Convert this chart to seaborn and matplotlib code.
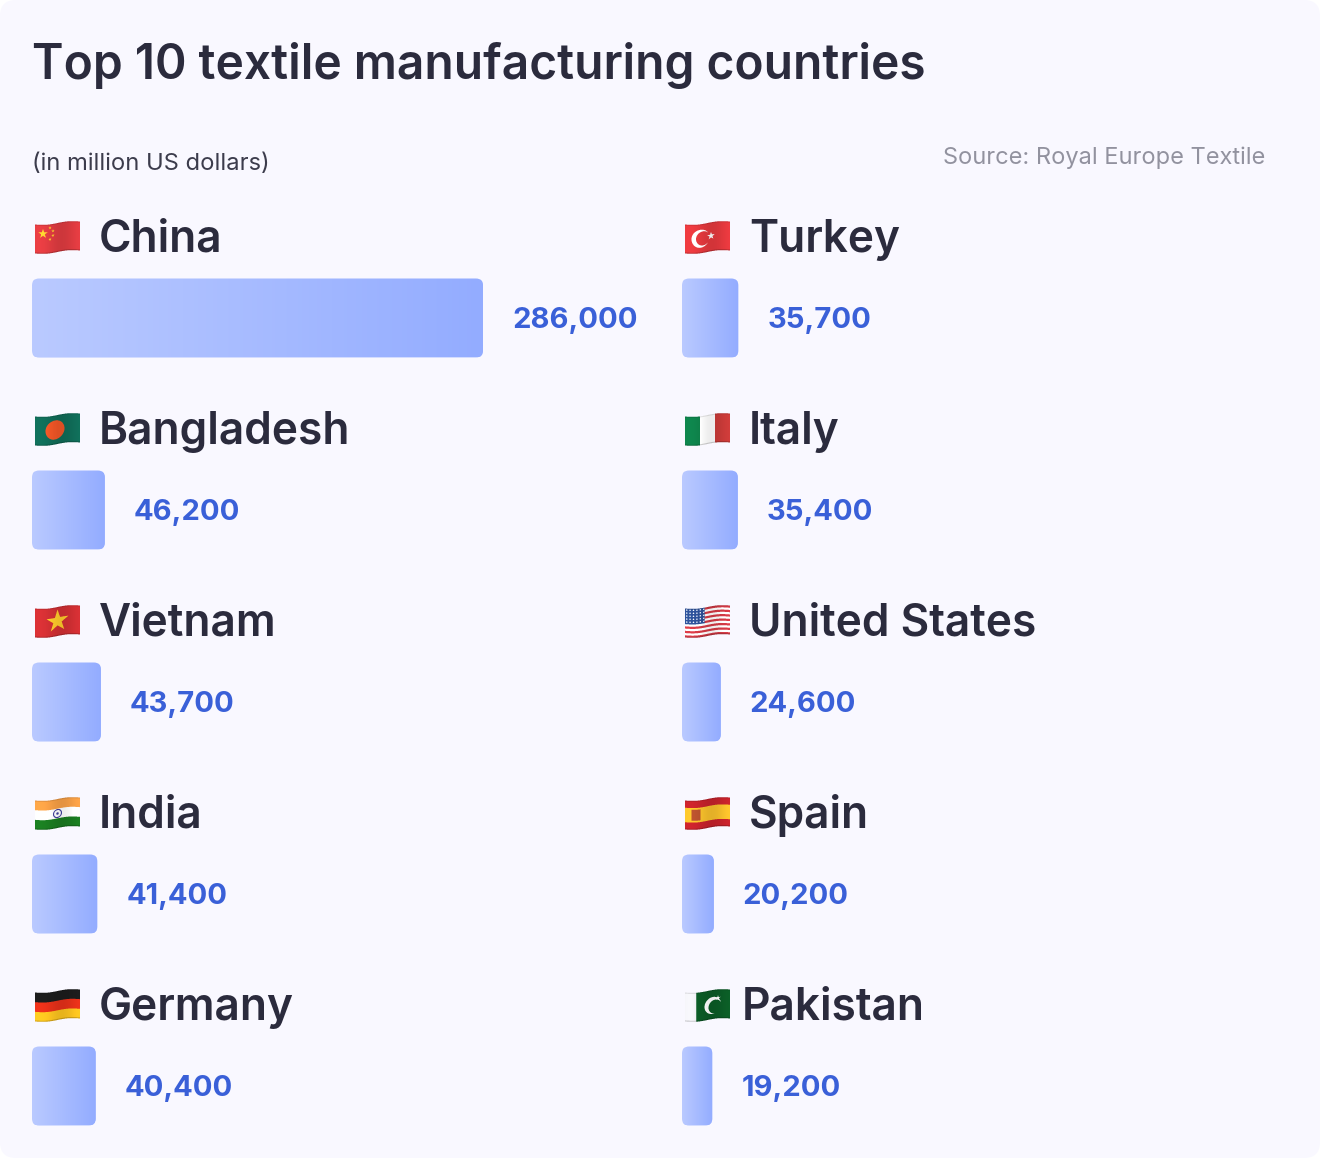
import numpy as np
import matplotlib
matplotlib.use('Agg')
import matplotlib.pyplot as plt
import seaborn as sns
from matplotlib.colors import LinearSegmentedColormap
from matplotlib.patches import FancyBboxPatch
from matplotlib.transforms import IdentityTransform

left_countries = ['China', 'Bangladesh', 'Vietnam', 'India', 'Germany']
left_values = [286000, 46200, 43700, 41400, 40400]
right_countries = ['Turkey', 'Italy', 'United States', 'Spain', 'Pakistan']
right_values = [35700, 35400, 24600, 20200, 19200]

title = 'Top 10 textile manufacturing countries'
subtitle = '(in million US dollars)'
source = 'Source: Royal Europe Textile'

W, H = 1320, 1158
BG = '#F9F8FF'
DARK = '#2B2B3D'
BLUE = '#3A60D8'
PX_PER_UNIT = 451 / 286000
ROW = 192
grad_cmap = LinearSegmentedColormap.from_list('bar', ['#BACAFF', '#93ACFF'])

sns.set_theme(style='white')
plt.rcParams['font.family'] = ['Inter', 'DejaVu Sans']


def hexrgb(c):
    return np.array(matplotlib.colors.to_rgb(c))


def star(x, y, cx, cy, r):
    dx, dy = x - cx, y - cy
    a = np.arctan2(dx, -dy)
    d = np.hypot(dx, dy)
    k = np.abs(((a + np.pi / 5) % (2 * np.pi / 5)) - np.pi / 5)
    px, py = 0.382 * r * np.cos(np.pi / 5), 0.382 * r * np.sin(np.pi / 5)
    return (d * np.cos(k) - r) * py - d * np.sin(k) * (px - r) < 0


def paint(code, x, y, w, h):
    # x, y in flag pixels, returns rgb array
    img = np.zeros(x.shape + (3,))
    u, v = x / w, y / h
    def fill(mask, c):
        img[mask] = hexrgb(c)
    fill(np.ones_like(u, bool), '#FFFFFF')
    if code == 'China':
        fill(u >= 0, '#DD3B40')
        fill(star(x, y, 8, 9, 5), '#FBD02E')
        for sx, sy in [(15, 3.5), (18, 7), (18, 11.5), (15, 15)]:
            fill(star(x, y, sx, sy, 1.7), '#FBD02E')
    elif code == 'Bangladesh':
        fill(u >= 0, '#106B57')
        fill(np.hypot(x - 20, y - h / 2) < 9.5, '#EE5526')
    elif code == 'Vietnam':
        fill(u >= 0, '#CF2F33')
        fill(star(x, y, w / 2, h / 2 - 0.5, 11.5), '#FDC92B')
    elif code == 'India':
        fill(v < 1 / 3, '#F59E45')
        fill(v > 2 / 3, '#1A7A20')
        d = np.hypot(x - w / 2, y - h / 2)
        fill((d < 4.5) & (d > 3.4), '#3E3E9B')
        fill(d < 1.2, '#3E3E9B')
    elif code == 'Germany':
        fill(v < 1 / 3, '#1C1C1C')
        fill((v >= 1 / 3) & (v < 2 / 3), '#E33019')
        fill(v >= 2 / 3, '#F9C11F')
    elif code == 'Turkey':
        fill(u >= 0, '#E2383D')
        d1 = np.hypot(x - 15.5, y - h / 2)
        d2 = np.hypot(x - 18, y - h / 2)
        fill((d1 < 9) & (d2 > 7), '#FFFFFF')
        fill(star(x, y, 26, h / 2 - 1, 4), '#FFFFFF')
    elif code == 'Italy':
        fill(u < 1 / 3, '#0E7F49')
        fill(u > 2 / 3, '#C73A38')
    elif code == 'United States':
        stripe = (np.floor(v * 13) % 2) == 0
        fill(stripe, '#D23A45')
        fill((u < 0.44) & (v < 7 / 13), '#2C4F94')
        dots = (u < 0.44) & (v < 7 / 13) & (np.hypot((x % 3.4) - 1.7, (y % 3.0) - 1.5) < 0.75)
        fill(dots, '#E8ECF8')
    elif code == 'Spain':
        fill(u >= 0, '#C4222B')
        fill((v > 0.25) & (v < 0.75), '#F5BE2B')
        fill((np.abs(x - 11) < 4.5) & (np.abs(y - h / 2) < 5.5), '#B5502D')
    elif code == 'Pakistan':
        fill(u < 0.25, '#E8E8EC')
        fill(u >= 0.25, '#0B5B26')
        d1 = np.hypot(x - 28, y - h / 2 - 1)
        d2 = np.hypot(x - 30.5, y - h / 2 - 2.5)
        fill((u >= 0.25) & (d1 < 8.5) & (d2 > 7), '#FFFFFF')
        fill(star(x, y, 33, h / 2 - 6, 2.6), '#FFFFFF')
    return img


def make_flag(code, w=45, h=29, pad=3, ss=4):
    # waving emoji style flag, rastered by hand
    hh = h + 2 * pad
    xs = (np.arange(w * ss) + 0.5) / ss
    ys = (np.arange(hh * ss) + 0.5) / ss
    x, y = np.meshgrid(xs, ys)
    u = x / w
    wave = 1.5 * (1 - 2 * u) + 1.0 * np.sin(2 * np.pi * u)
    yy = y - pad - wave
    rgb = paint(code, x, yy, w, h)
    shade = 1 + 0.07 * np.sin(2 * np.pi * u + 1.0)
    shade = shade * (1 - 0.18 * (yy / h > 0.96)) * (1 - 0.10 * (yy / h < 0.04))
    rgb = np.clip(rgb * shade[..., None], 0, 1)
    alpha = ((yy >= 0) & (yy < h)).astype(float)
    rgba = np.dstack([rgb, alpha])
    out = rgba.reshape(hh, ss, w, ss, 4).mean(axis=(1, 3))
    a = out[..., 3:]
    prem = (rgba[..., :3] * rgba[..., 3:]).reshape(hh, ss, w, ss, 3).mean(axis=(1, 3))
    out[..., :3] = np.where(a > 0, prem / np.maximum(a, 1e-6), 1)
    return out


def draw_column(ax, countries, values, flag_x):
    sns.barplot(x=values, y=countries, ax=ax, width=79 / ROW, color='#A6BBFF', orient='h', saturation=1)
    ax_w = ax.get_position().width * W
    ax_h = ax.get_position().height * H
    xlim = (0, ax_w / PX_PER_UNIT)
    # row 0 centre sits 110 px below the axes top
    ylim = ((ax_h - 110) / ROW, -110 / ROW)
    ax.set_xlim(xlim)
    ax.set_ylim(ylim)
    x_unit = 1 / PX_PER_UNIT
    y_unit = 1 / ROW
    grad = np.linspace(0, 1, 256).reshape(1, -1)
    for bar in list(ax.patches):
        x0, y0, bw, bh = bar.get_x(), bar.get_y(), bar.get_width(), bar.get_height()
        round_box = FancyBboxPatch((x0, y0), bw, bh, boxstyle=f'round,pad=0,rounding_size={7 * x_unit}',
                                   mutation_aspect=y_unit / x_unit, transform=ax.transData,
                                   facecolor='none', edgecolor='none')
        ax.add_patch(round_box)
        bar.set_clip_path(round_box)
        im = ax.imshow(grad, extent=[x0, x0 + bw, y0 + bh, y0], aspect='auto', cmap=grad_cmap,
                       vmin=0, vmax=1, zorder=3)
        im.set_clip_path(round_box)
    ax.set_xlim(xlim)
    ax.set_ylim(ylim)
    ax.axis('off')
    for i, (name, val) in enumerate(zip(countries, values)):
        name_dx = 60 if name == 'Pakistan' else 67
        ax.annotate(name, xy=(0, i), xytext=(name_dx, 66), textcoords='offset pixels',
                    fontsize=31.8, fontweight=600, color=DARK, va='baseline', ha='left')
        ax.annotate(f'{val:,}', xy=(val, i), xytext=(29, -10.5), textcoords='offset pixels',
                    fontsize=21, fontweight=700, color=BLUE, va='baseline', ha='left')
        # flag sits above the bar, same row
        _, py = ax.transData.transform((0, i))
        flag = make_flag(name)
        fig.figimage(flag, xo=flag_x, yo=int(round(py + 66 - 3)), origin='upper', zorder=5)


fig = plt.figure(figsize=(W / 100, H / 100), dpi=100, facecolor='white')
fig.add_artist(FancyBboxPatch((0, 0), W, H, boxstyle='round,pad=0,rounding_size=16',
                              transform=IdentityTransform(), facecolor=BG, edgecolor='none', zorder=-1))

ax_top = 208
ax_l = fig.add_axes([32 / W, 0, 608 / W, (H - ax_top) / H])
ax_r = fig.add_axes([682 / W, 0, 608 / W, (H - ax_top) / H])
ax_l.patch.set_alpha(0)
ax_r.patch.set_alpha(0)
draw_column(ax_l, left_countries, left_values, 35)
draw_column(ax_r, right_countries, right_values, 685)

fig.text(32 / W, 1 - 79 / H, title, fontsize=34.45, fontweight=600, color=DARK, va='baseline', ha='left')
fig.text(32.5 / W, 1 - 170 / H, subtitle, fontsize=17.1, color='#3C3C4C', va='baseline', ha='left')
fig.text(1265.5 / W, 1 - 164 / H, source, fontsize=16.97, color='#92929F', va='baseline', ha='right')

fig.savefig('out.png', dpi=100, facecolor='white')
